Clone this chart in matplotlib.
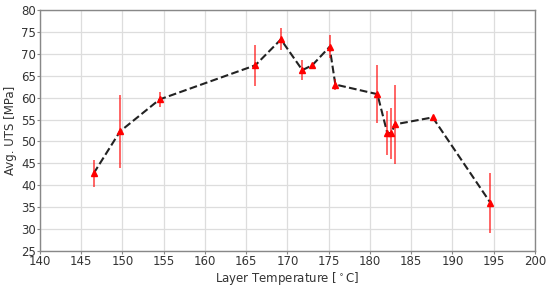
import numpy as np
import matplotlib
matplotlib.use("Agg")
import matplotlib.pyplot as plt

# layer temperature [C], avg UTS [MPa], std
temp = [146.5, 149.7, 154.5, 166.1, 169.2, 171.8, 173.0, 175.1, 175.8,
        180.9, 182.1, 182.6, 183.0, 187.6, 194.6]
uts = [42.7, 52.3, 59.6, 67.4, 73.3, 66.3, 67.4, 71.6, 63.0,
       60.8, 51.9, 51.9, 53.9, 55.5, 36.0]
err = [3.0, 8.3, 1.8, 4.7, 2.5, 2.2, 0.3, 2.6, 1.3,
       6.6, 5.0, 5.8, 9.0, 0.3, 6.8]

xticks = np.arange(140, 201, 5)
yticks = np.arange(25, 81, 5)

plt.rcParams['font.family'] = 'DejaVu Sans'
fig = plt.figure(figsize=(5.5, 2.88), dpi=100)
ax = fig.add_axes([0.0727, 0.1285, 0.9, 0.8365])

ax.plot(temp, uts, '--', color='#222222', lw=1.5, zorder=2)
ax.errorbar(temp, uts, yerr=err, fmt='^', color='red', ms=3.8,
            ecolor=(1, 0, 0, 0.65), elinewidth=1.3, capsize=0, zorder=3)

ax.set_xlim(140, 200)
ax.set_ylim(25, 80)
ax.set_xticks(xticks)
ax.set_yticks(yticks)
ax.grid(True, color='#dddddd', lw=0.9)
ax.set_axisbelow(True)
ax.tick_params(length=2, width=0.8, color='#888888', pad=1,
               labelsize=8.5, labelcolor='#333333')
for s in ax.spines.values():
    s.set_color('#888888')
    s.set_linewidth(1.0)

ax.set_xlabel(r'Layer Temperature [$^\circ$C]', fontsize=8.5, color='#333333', labelpad=1)
ax.set_ylabel('Avg. UTS [MPa]', fontsize=8.5, color='#333333', labelpad=3)

fig.savefig('out.png', dpi=100)
